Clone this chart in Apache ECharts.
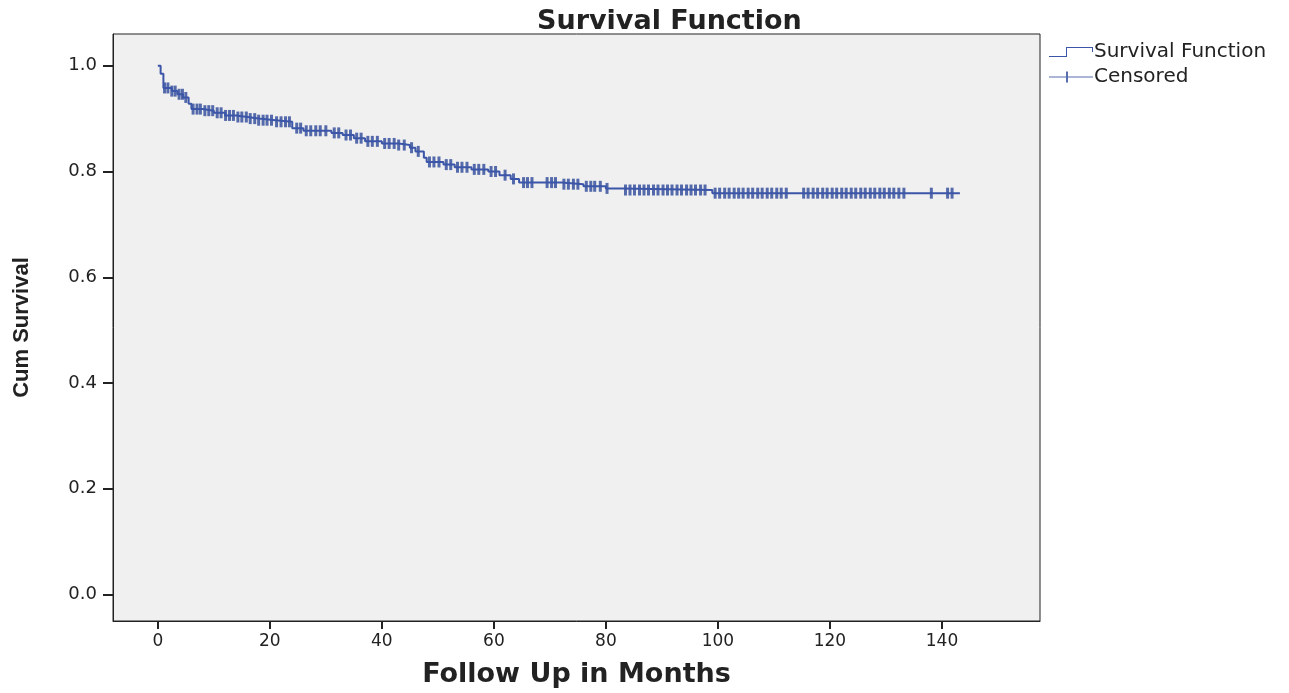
<!DOCTYPE html>
<html>
<head>
<meta charset="utf-8">
<script src="https://cdn.jsdelivr.net/npm/echarts@6/dist/echarts.min.js"></script>
<style>
  html, body { margin: 0; padding: 0; background: #fff; }
  #chart { width: 1289px; height: 693px; }
</style>
</head>
<body>
<div id="chart"></div>
<script>
// step points of the survival curve: [month, cum survival after the step]
var events = [
  [0, 1.0], [0.5, 0.985], [1, 0.958], [2.5, 0.952], [3.5, 0.946], [4.5, 0.94],
  [5.5, 0.928], [6, 0.918], [8, 0.915], [10, 0.911], [12, 0.906], [14, 0.903],
  [16, 0.9], [18, 0.897], [21, 0.894], [24, 0.882], [26, 0.877], [31, 0.873],
  [33, 0.869], [35, 0.863], [37, 0.857], [40, 0.853], [43, 0.85], [45, 0.845],
  [46, 0.838], [47.5, 0.826], [48, 0.818], [51, 0.813], [53, 0.808], [56, 0.804],
  [59, 0.8], [61, 0.793], [63, 0.786], [64.5, 0.779], [72, 0.776], [76, 0.772],
  [80, 0.768], [83, 0.765], [99, 0.759]
];
var lastFollowUp = 143.2;

// months where a patient was censored
var censored = [
  1.2, 1.8, 2.5, 3.1, 3.8, 4.4, 5.0, 6.3, 7.0, 7.6, 8.4, 9.1, 9.8, 10.6, 11.3,
  12.1, 12.8, 13.5, 14.3, 15.0, 15.8, 16.5, 17.3, 18.0, 18.8, 19.5, 20.3, 21.2,
  22.0, 22.8, 23.5, 24.8, 25.5, 26.5, 27.3, 28.2, 29.0, 30.0, 31.5, 32.3, 33.6,
  34.4, 35.5, 36.3, 37.5, 38.3, 39.2, 40.5, 41.3, 42.2, 43.0, 44.0, 45.3, 46.5,
  48.5, 49.3, 50.2, 51.5, 52.3, 53.5, 54.3, 55.2, 56.5, 57.3, 58.2, 59.5, 60.3,
  62.0, 63.5, 65.3, 66.0, 66.8, 69.5, 70.3, 71.0, 72.5, 73.3, 74.2, 75.0, 76.5,
  77.3, 78.0, 79.0, 80.2, 83.5, 84.3, 85.1, 86.0, 86.8, 87.6, 88.5, 89.3, 90.2,
  91.0, 91.8, 92.7, 93.5, 94.4, 95.2, 96.0, 96.9, 97.7, 99.5, 100.3, 101.2,
  102.0, 102.9, 103.7, 104.5, 105.4, 106.2, 107.1, 107.9, 108.8, 109.6, 110.5,
  111.3, 112.2, 115.3, 116.1, 117.0, 117.8, 118.7, 119.5, 120.4, 121.2, 122.1,
  122.9, 123.8, 124.6, 125.5, 126.3, 127.2, 128.0, 128.9, 129.7, 130.6, 131.4,
  132.3, 133.2, 138.1, 141.0, 141.8
];

var xTicks = [0, 20, 40, 60, 80, 100, 120, 140];
var yTicks = [0, 0.2, 0.4, 0.6, 0.8, 1.0];

function survAt(t) {
  var s = events[0][1];
  for (var i = 0; i < events.length; i++) {
    if (events[i][0] <= t) s = events[i][1];
  }
  return s;
}

var curve = events.map(function (e) { return [e[0], e[1]]; });
curve.push([lastFollowUp, events[events.length - 1][1]]);
var marks = censored.map(function (t) { return [t, survAt(t)]; });

var lineColor = '#3b55a8';
var markColor = '#2e4899';
var txt = '#222';

var chart = echarts.init(document.getElementById('chart'));
chart.setOption({
  animation: false,
  title: {
    text: 'Survival Function',
    left: 532,
    top: 3,
    textStyle: { fontFamily: 'DejaVu Sans', fontWeight: 'bold', fontSize: 27, color: txt }
  },
  legend: {
    orient: 'vertical',
    left: 1044,
    top: 37,
    itemWidth: 44,
    itemHeight: 12,
    itemGap: 5,
    textStyle: { fontFamily: 'DejaVu Sans', fontSize: 20, color: txt, padding: [0, 0, 0, -4] },
    data: [
      { name: 'Survival Function',
        icon: 'path://M0,9 L17,9 L17,0 L44,0 L44,5 L43,5 L43,1 L18,1 L18,10 L0,10 Z' },
      { name: 'Censored',
        icon: 'path://M0,5 L17,5 L17,0 L19,0 L19,5 L44,5 L44,6 L19,6 L19,11 L17,11 L17,6 L0,6 Z' }
    ]
  },
  grid: {
    left: 113, right: 249, top: 34, bottom: 71,
    show: true,
    backgroundColor: '#f0f0f0',
    borderColor: '#222',
    borderWidth: 1
  },
  xAxis: {
    type: 'value',
    min: -8,
    max: 157.5,
    name: 'Follow Up in Months',
    nameLocation: 'middle',
    nameGap: 40,
    nameTextStyle: { fontFamily: 'DejaVu Sans', fontWeight: 'bold', fontSize: 27, color: txt },
    axisLine: { show: true, onZero: false, lineStyle: { color: '#222' } },
    axisTick: { show: true, length: 8, customValues: xTicks, lineStyle: { color: '#222', width: 2 } },
    axisLabel: { customValues: xTicks, margin: 12, fontFamily: 'DejaVu Sans', fontSize: 17, color: txt },
    splitLine: { show: false }
  },
  yAxis: {
    type: 'value',
    min: -0.05,
    max: 1.06,
    name: 'Cum Survival',
    nameLocation: 'middle',
    nameGap: 80,
    nameTextStyle: {
      fontFamily: 'Liberation Sans Narrow, Arial Narrow, sans-serif',
      fontWeight: 'bold', fontSize: 22, color: txt
    },
    axisLine: { show: true, onZero: false, lineStyle: { color: '#222' } },
    axisTick: { show: true, length: 10, customValues: yTicks, lineStyle: { color: '#222', width: 2 } },
    axisLabel: {
      customValues: yTicks, margin: 16, fontFamily: 'DejaVu Sans', fontSize: 18, color: txt,
      formatter: function (v) { return v.toFixed(1); }
    },
    splitLine: { show: false }
  },
  series: [
    {
      name: 'Survival Function',
      type: 'line',
      step: 'end',
      symbol: 'none',
      data: curve,
      itemStyle: { color: lineColor },
      lineStyle: { color: lineColor, width: 2 }
    },
    {
      name: 'Censored',
      type: 'scatter',
      symbol: 'rect',
      symbolSize: [3, 11],
      data: marks,
      itemStyle: { color: markColor }
    }
  ]
});
</script>
</body>
</html>
